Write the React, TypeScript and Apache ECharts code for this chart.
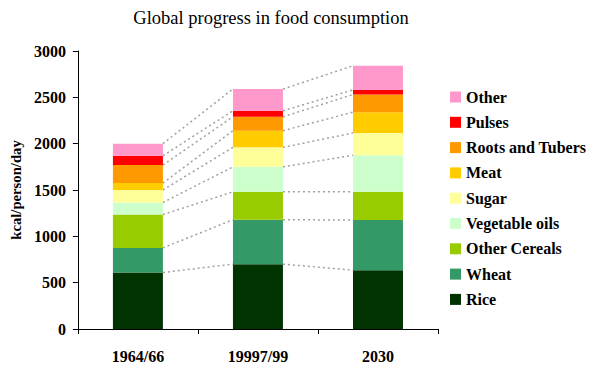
import React, { useEffect, useRef } from "react";
import * as echarts from "echarts";

const categories = ["1964/66", "19997/99", "2030"];
const seriesNames = ["Rice", "Wheat", "Other Cereals", "Vegetable oils", "Sugar", "Meat", "Roots and Tubers", "Pulses", "Other"];
const colors = ["#003300", "#339966", "#99CC00", "#CCFFCC", "#FFFF99", "#FFCC00", "#FF9900", "#FF0000", "#FF99CC"];
const rice = [610, 700, 635];
const wheat = [265, 480, 540];
const otherCereals = [360, 300, 305];
const vegOils = [130, 270, 395];
const sugar = [135, 210, 240];
const meat = [75, 180, 225];
const roots = [195, 150, 190];
const pulses = [100, 65, 50];
const other = [130, 235, 260];
const yTicks = [0, 500, 1000, 1500, 2000, 2500, 3000];

const FONT = "'Liberation Serif', 'DejaVu Serif', serif";
const BAR_W = 50;

export default function App() {
  const ref = useRef<HTMLDivElement>(null);
  useEffect(() => {
    if (!ref.current) return;
    const chart = echarts.init(ref.current, null, { renderer: "svg" });
    const values = [rice, wheat, otherCereals, vegOils, sugar, meat, roots, pulses, other];
    const cum: number[][] = categories.map((_, ci) => {
      let s = 0;
      return values.map((arr) => (s += arr[ci]));
    });
    const barSeries = values.map((arr, k) => ({
      name: seriesNames[k],
      type: "bar",
      stack: "total",
      barWidth: BAR_W,
      data: arr,
      itemStyle: { color: colors[k] },
      z: 3,
    }));
    const connector = {
      type: "custom",
      coordinateSystem: "cartesian2d",
      silent: true,
      z: 2,
      data: [[0, 0], [1, 0]],
      encode: { x: 0, y: 1 },
      renderItem: (params: any, api: any) => {
        const i = api.value(0);
        const children = cum[i].map((v, k) => {
          const p1 = api.coord([i, v]);
          const p2 = api.coord([i + 1, cum[i + 1][k]]);
          return {
            type: "line",
            shape: { x1: p1[0] + BAR_W / 2, y1: p1[1], x2: p2[0] - BAR_W / 2, y2: p2[1] },
            style: { stroke: "#a0a0a0", lineWidth: 1.5, lineDash: [2, 3] },
          };
        });
        return { type: "group", children };
      },
    };
    chart.setOption({
      animation: false,
      backgroundColor: "#ffffff",
      title: {
        text: "Global progress in food consumption",
        left: 266,
        textAlign: "center",
        top: 3,
        textStyle: { fontFamily: FONT, fontSize: 18.5, fontWeight: "normal", color: "#000" },
      },
      grid: { left: 76, right: 162, top: 51, bottom: 47 },
      legend: {
        orient: "vertical",
        left: 450,
        top: 89,
        padding: 0,
        itemWidth: 11,
        itemHeight: 11,
        itemGap: 9.3,
        itemTextGap: 5,
        icon: "rect",
        data: [...seriesNames].reverse(),
        textStyle: { fontFamily: FONT, fontSize: 16, fontWeight: "bold", color: "#000", lineHeight: 16 },
      },
      xAxis: {
        type: "category",
        data: categories,
        axisLine: { lineStyle: { color: "#000", width: 1 } },
        axisTick: { show: true, alignWithLabel: false, length: 5, lineStyle: { color: "#000" } },
        axisLabel: { fontFamily: FONT, fontSize: 16, fontWeight: "bold", color: "#000", margin: 19 },
      },
      yAxis: {
        type: "value",
        min: 0,
        max: 3000,
        interval: 500,
        name: "kcal/person/day",
        nameLocation: "middle",
        nameGap: 52,
        nameTextStyle: { fontFamily: FONT, fontSize: 14.7, fontWeight: "bold", color: "#000" },
        axisLine: { show: true, lineStyle: { color: "#000", width: 1 } },
        axisTick: { show: true, length: 5, lineStyle: { color: "#000" } },
        splitLine: { show: false },
        axisLabel: {
          fontFamily: FONT,
          fontSize: 16,
          fontWeight: "bold",
          color: "#000",
          margin: 12,
          formatter: (v: number) => (yTicks.includes(v) ? String(v) : ""),
        },
      },
      series: [...barSeries, connector],
    });
    return () => chart.dispose();
  }, []);
  return <div ref={ref} style={{ position: "absolute", left: 0, top: 0, width: 600, height: 376 }} />;
}
